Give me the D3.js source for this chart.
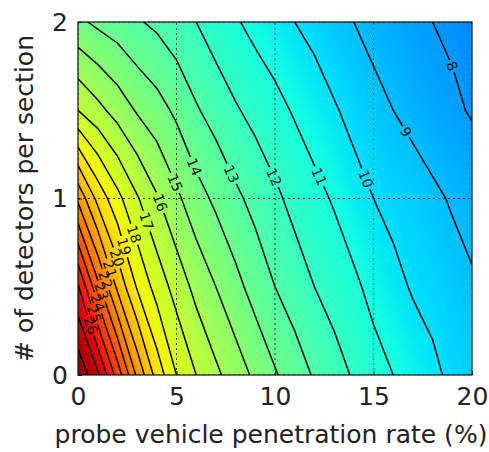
<!DOCTYPE html>
<html>
<head>
<meta charset="utf-8">
<script src="https://cdn.jsdelivr.net/npm/d3@7"></script>
<style>
  body { margin: 0; background: #fff; }
  text { font-family: "DejaVu Sans", sans-serif; }
</style>
</head>
<body>
<svg id="chart"></svg>
<script>
// grid columns: probe vehicle penetration rate (%)
var rates = [0, 1, 2, 3, 4, 5, 6, 7, 8, 9, 10, 11, 12, 13, 14, 15, 16, 17, 18, 19, 20];
// grid rows, top to bottom: # of detectors per section
var detectors = [2, 1.5, 1, 0.5, 0];

// values, one row per detector count
var errD20 = [14.2, 13.8, 13.5, 13.1, 12.8, 12.4, 12.0, 11.5, 11.1, 10.7, 10.4, 10.0, 9.7, 9.3, 9.0, 8.7, 8.5, 8.2, 8.0, 7.8, 7.5];
var errD15 = [17.0, 16.3, 15.6, 14.9, 14.4, 13.8, 13.1, 12.6, 12.1, 11.7, 11.3, 10.9, 10.5, 10.1, 9.7, 9.3, 9.0, 8.7, 8.4, 8.2, 7.9];
var errD10 = [21.8, 19.7, 18.3, 17.1, 16.1, 15.2, 14.4, 13.8, 13.2, 12.7, 12.2, 11.7, 11.3, 10.9, 10.4, 10.0, 9.7, 9.5, 9.2, 8.9, 8.7];
var errD05 = [26.1, 23.3, 20.8, 18.9, 17.6, 16.6, 15.7, 15.0, 14.3, 13.6, 13.0, 12.5, 12.0, 11.6, 11.2, 10.7, 10.3, 9.9, 9.7, 9.4, 9.1];
var errD00 = [28.8, 27.2, 24.6, 21.8, 19.6, 18.0, 17.0, 16.2, 15.5, 14.8, 14.1, 13.5, 12.9, 12.4, 11.9, 11.4, 11.0, 10.6, 10.2, 9.8, 9.5];

var levels = [8, 9, 10, 11, 12, 13, 14, 15, 16, 17, 18, 19, 20, 21, 22, 23, 24, 25, 26, 27, 28];
var labelLevels = [8, 9, 10, 11, 12, 13, 14, 15, 16, 17, 18, 19, 20, 21, 22, 23, 24, 25, 26];
var xTicks = [0, 5, 10, 15, 20];
var yTicks = [0, 1, 2];

var width = 489, height = 452;
var fs = 25, lblFs = 14;

var svg = d3.select("#chart").attr("width", width).attr("height", height);

var x = d3.scaleLinear().domain([0, 20]).range([78, 472]);
var y = d3.scaleLinear().domain([0, 2]).range([375, 22]);

//grid coordinates (sample i sits at i+0.5) to pixels
var gx = d3.scaleLinear().domain([0.5, rates.length - 0.5]).range([x(rates[0]), x(rates[rates.length - 1])]);
var gy = d3.scaleLinear().domain([0.5, detectors.length - 0.5]).range([y(detectors[0]), y(detectors[detectors.length - 1])]);
var path = d3.geoPath(d3.geoTransform({
	point: function(px, py) { this.stream.point(gx(px), gy(py)); }
}));

var values = [].concat(errD20, errD15, errD10, errD05, errD00);

//jet colormap
var jetR = d3.scaleLinear().domain([0, 0.35, 0.66, 0.89, 1]).range([0, 0, 1, 1, 0.5]);
var jetG = d3.scaleLinear().domain([0, 0.125, 0.375, 0.64, 0.91, 1]).range([0, 0, 1, 1, 0, 0]);
var jetB = d3.scaleLinear().domain([0, 0.11, 0.34, 0.65, 1]).range([0.5, 1, 1, 0, 0]);
var norm = d3.scaleLinear().domain([0, 29]).clamp(true);
function jet(v) {
	var t = norm(v);
	return d3.rgb(jetR(t) * 255, jetG(t) * 255, jetB(t) * 255).toString();
}

var defs = svg.append("defs");
defs.append("clipPath").attr("id", "plotclip").append("rect")
	.attr("x", x(0)).attr("y", y(2)).attr("width", x(20) - x(0)).attr("height", y(0) - y(2));

//filled background, many thin bands
var step = 0.1;
var vmin = d3.min(values), vmax = d3.max(values);
var fillTh = d3.range(Math.floor(vmin * 10) / 10 - step, vmax, step);
var bands = d3.contours().size([rates.length, detectors.length]).thresholds(fillTh)(values);
svg.append("g").attr("clip-path", "url(#plotclip)")
	.selectAll("path").data(bands).enter().append("path")
	.attr("d", path)
	.attr("fill", function(d) { return jet(d.value + step / 2); })
	.attr("stroke", function(d) { return jet(d.value + step / 2); })
	.attr("stroke-width", 0.3);

//grid lines
var grid = svg.append("g").attr("clip-path", "url(#plotclip)");
grid.selectAll("line.gx").data(xTicks).enter().append("line")
	.attr("x1", function(d) { return x(d); }).attr("x2", function(d) { return x(d); })
	.attr("y1", y(0)).attr("y2", y(2));
grid.selectAll("line.gy").data(yTicks).enter().append("line")
	.attr("x1", x(0)).attr("x2", x(20))
	.attr("y1", function(d) { return y(d); }).attr("y2", function(d) { return y(d); });
grid.selectAll("line").attr("stroke", "#111").attr("stroke-width", 0.8).attr("stroke-dasharray", "2,3");

//contour lines
var contours = d3.contours().size([rates.length, detectors.length]).thresholds(levels)(values);

//find label spot: a bit above the middle of the longest visible run of each contour
function inside(p) {
	return p[0] >= x(0) - 0.01 && p[0] <= x(20) + 0.01 && p[1] >= y(2) - 0.01 && p[1] <= y(0) + 0.01;
}
function labelSpot(c) {
	var best = null, bestLen = 0;
	c.coordinates.forEach(function(poly) {
		poly.forEach(function(ring) {
			var pts = ring.map(function(p) { return [gx(p[0]), gy(p[1])]; });
			var start = pts.findIndex(function(p) { return !inside(p); });
			if (start < 0) start = 0;
			var run = [];
			for (var k = 0; k <= pts.length; k++) {
				var p = pts[(start + k) % pts.length];
				if (inside(p)) run.push(p);
				if (!inside(p) || k === pts.length) {
					if (run.length > 1) {
						var len = 0;
						for (var j = 1; j < run.length; j++) len += Math.hypot(run[j][0] - run[j - 1][0], run[j][1] - run[j - 1][1]);
						if (len > bestLen) { bestLen = len; best = run; }
					}
					run = [];
				}
			}
		});
	});
	if (!best) return null;
	if (best[0][1] > best[best.length - 1][1]) best = best.slice().reverse();
	var target = bestLen * 0.45, acc = 0;
	for (var j = 1; j < best.length; j++) {
		var a = best[j - 1], b = best[j];
		var sl = Math.hypot(b[0] - a[0], b[1] - a[1]);
		if (acc + sl >= target) {
			var f = (target - acc) / sl;
			var ang = Math.atan2(b[1] - a[1], b[0] - a[0]) * 180 / Math.PI;
			if (ang > 90) ang -= 180;
			if (ang < -90) ang += 180;
			return { x: a[0] + f * (b[0] - a[0]), y: a[1] + f * (b[1] - a[1]), angle: ang };
		}
		acc += sl;
	}
	return null;
}

var labels = [];
contours.forEach(function(c) {
	if (labelLevels.indexOf(c.value) < 0) return;
	var s = labelSpot(c);
	if (s) { s.text = String(c.value); labels.push(s); }
});

//mask to break lines under labels
var mask = defs.append("mask").attr("id", "lblmask").attr("maskUnits", "userSpaceOnUse")
	.attr("x", 0).attr("y", 0).attr("width", width).attr("height", height);
mask.append("rect").attr("x", 0).attr("y", 0).attr("width", width).attr("height", height).attr("fill", "white");
mask.selectAll("rect.hole").data(labels).enter().append("rect")
	.attr("x", function(d) { return -(d.text.length * 0.64 * lblFs + 4) / 2; })
	.attr("y", -lblFs * 0.45)
	.attr("width", function(d) { return d.text.length * 0.64 * lblFs + 4; })
	.attr("height", lblFs * 0.9)
	.attr("transform", function(d) { return "translate(" + d.x + "," + d.y + ") rotate(" + d.angle + ")"; })
	.attr("fill", "black");

svg.append("g").attr("clip-path", "url(#plotclip)")
	.append("g").attr("mask", "url(#lblmask)")
	.selectAll("path").data(contours).enter().append("path")
	.attr("d", path)
	.attr("fill", "none")
	.attr("stroke", "#000")
	.attr("stroke-width", 1.5)
	.attr("stroke-linejoin", "round");

svg.append("g").selectAll("text").data(labels).enter().append("text")
	.attr("transform", function(d) { return "translate(" + d.x + "," + d.y + ") rotate(" + d.angle + ")"; })
	.attr("text-anchor", "middle")
	.attr("dy", "0.36em")
	.attr("font-size", lblFs)
	.attr("fill", "#111")
	.text(function(d) { return d.text; });

//frame
svg.append("rect")
	.attr("x", x(0)).attr("y", y(2)).attr("width", x(20) - x(0)).attr("height", y(0) - y(2))
	.attr("fill", "none").attr("stroke", "#111").attr("stroke-width", 1.2);

//axes
var xAxis = svg.append("g").attr("transform", "translate(0," + y(0) + ")")
	.call(d3.axisBottom(x).tickValues(xTicks).tickFormat(d3.format("d")).tickSize(-4).tickSizeOuter(0).tickPadding(12));
var yAxis = svg.append("g").attr("transform", "translate(" + x(0) + ",0)")
	.call(d3.axisLeft(y).tickValues(yTicks).tickFormat(d3.format("d")).tickSize(-4).tickSizeOuter(0).tickPadding(10));
[xAxis, yAxis].forEach(function(ax) {
	ax.select(".domain").remove();
	ax.selectAll("text").attr("font-size", fs).attr("font-family", "DejaVu Sans").attr("fill", "#222");
	ax.selectAll("line").attr("stroke", "#111");
});

svg.append("text")
	.attr("x", 271).attr("y", 443)
	.attr("text-anchor", "middle").attr("font-size", fs).attr("fill", "#222")
	.text("probe vehicle penetration rate (%)");

svg.append("text")
	.attr("transform", "translate(33," + (y(0) + y(2)) / 2 + ") rotate(-90)")
	.attr("text-anchor", "middle").attr("font-size", fs).attr("fill", "#222")
	.text("# of detectors per section");
</script>
</body>
</html>
